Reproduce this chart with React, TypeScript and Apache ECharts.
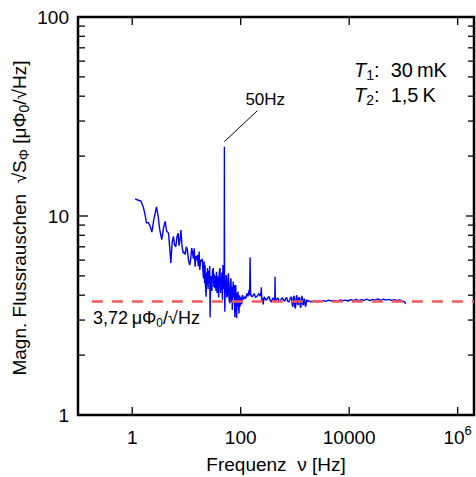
import React, { useEffect, useRef } from 'react';
import * as echarts from 'echarts';

// ---- data ----
const freqHz = [
  1.13, 1.3, 1.45, 1.6, 1.72, 1.83, 1.95, 2.1, 2.3, 2.5, 2.8, 3.0, 3.2, 3.5, 3.8, 4.05, 4.3, 4.66, 4.9, 5.15,
  5.45, 5.75, 6.0, 6.35, 6.7, 7.0, 7.3, 7.6, 7.9, 8.3, 8.7, 9.1, 9.5, 9.9, 10.4, 10.9, 11.5, 12.0, 12.5, 12.9,
  13.4, 13.9, 14.4, 14.9, 15.6, 15.9, 16.5, 17.1, 17.6, 18.2, 18.9, 19.7, 20.0, 20.6, 21.2, 21.6, 22.0, 22.5, 23.0, 23.5,
  24.0, 24.4, 25.0, 25.6, 26.2, 26.8, 27.3, 27.9, 28.7, 29.4, 30.2, 31.2, 32.0, 32.6, 33.4, 34.3, 35.0, 35.7, 36.6, 37.4,
  38.2, 39.2, 40.2, 41.5, 42.5, 43.3, 44.0, 45.0, 46.0, 47.0, 48.0, 49.0, 49.6, 50.0, 50.4, 51.0, 52.0, 53.0, 54.0, 55.5,
  57.0, 58.2, 59.4, 61.0, 63.0, 64.5, 66.0, 67.5, 69.0, 70.0, 71.5, 73.0, 74.5, 76.0, 78.0, 79.5, 81.0, 82.5, 84.0, 86.0,
  87.5, 89.0, 91.0, 93.0, 95.0, 97.0, 100, 104, 108, 113, 118, 124, 130, 136, 143, 146, 149, 152, 157, 163,
  170, 177, 187, 197, 207, 218, 228, 236, 240, 245, 251, 260, 270, 285, 302, 318, 334, 350, 368, 385,
  401, 415, 425, 430, 435, 449, 468, 488, 510, 531, 558, 585, 615, 648, 675, 705, 740, 780, 820, 860,
  890, 915, 940, 965, 990, 1020, 1050, 1080, 1110, 1140, 1175, 1210, 1245, 1280, 1315, 1350, 1390, 1430, 1470, 1510,
  1555, 1600, 1650, 1690, 1800, 1950, 2100, 2240, 2400, 2600, 2800, 3000, 3300, 3700, 4200, 4700, 5300, 6000, 6800, 7600,
  8500, 9500, 10700, 12000, 13500, 15000, 17000, 19000, 21000, 24000, 27000, 30000, 34000, 38000, 43000, 48000, 54000, 60000, 68000, 76000,
  85000, 95000, 105000, 110000,
];
const noiseAmp = [
  12.2, 12.0, 11.9, 11.1, 10.2, 9.2, 9.3, 9.0, 8.3, 9.6, 11.1, 10.0, 8.6, 7.6, 8.8, 9.4, 8.4, 8.2, 7.0, 5.8,
  7.4, 7.9, 7.2, 7.0, 7.9, 8.2, 7.1, 7.6, 8.5, 7.0, 6.5, 6.6, 6.4, 7.0, 6.75, 6.0, 5.67, 6.13, 6.9, 6.6,
  6.1, 6.88, 5.56, 6.3, 6.0, 6.36, 5.6, 6.62, 5.35, 6.0, 5.89, 6.1, 5.4, 4.86, 5.9, 4.6, 5.67, 4.4, 3.93, 5.2,
  4.5, 5.47, 4.3, 5.3, 4.59, 5.6, 3.1, 5.0, 4.86, 4.2, 5.3, 5.47, 4.4, 5.1, 4.33, 5.0, 4.2, 5.25, 4.1, 5.0,
  4.49, 3.9, 5.2, 5.47, 4.1, 4.9, 4.25, 5.2, 3.8, 5.67, 4.3, 4.9, 4.4, 22.3, 4.2, 3.3, 4.7, 4.1, 5.05, 3.9,
  4.0, 4.9, 5.15, 3.8, 3.64, 4.6, 4.86, 3.7, 4.4, 3.37, 4.2, 4.68, 3.9, 4.5, 3.1, 4.3, 4.49, 3.6, 3.07, 4.1,
  3.5, 4.17, 3.6, 3.24, 4.0, 3.5, 3.93, 3.6, 4.0, 3.8, 3.93, 3.85, 4.08, 3.95, 4.25, 4.0, 6.2, 4.1, 3.95, 3.93,
  4.0, 4.08, 3.9, 3.93, 4.0, 4.08, 3.95, 4.1, 4.38, 3.75, 3.86, 3.6, 3.93, 3.82, 3.78, 3.9, 3.93, 3.75, 3.7, 3.85,
  3.86, 3.75, 3.85, 4.95, 3.8, 3.7, 3.85, 3.86, 3.75, 3.7, 3.82, 3.89, 3.78, 3.73, 3.85, 3.89, 3.72, 3.7, 3.85, 3.93,
  3.6, 3.5, 3.9, 3.97, 3.55, 3.43, 3.85, 4.0, 3.6, 3.57, 3.9, 3.89, 3.55, 3.46, 3.85, 3.97, 3.6, 3.57, 3.85, 3.78,
  3.5, 3.57, 3.8, 3.73, 3.75, 3.7, 3.74, 3.72, 3.76, 3.69, 3.74, 3.72, 3.76, 3.72, 3.78, 3.74, 3.77, 3.73, 3.79, 3.75,
  3.78, 3.74, 3.8, 3.76, 3.81, 3.75, 3.8, 3.77, 3.82, 3.76, 3.81, 3.78, 3.83, 3.77, 3.82, 3.78, 3.81, 3.77, 3.8, 3.76,
  3.79, 3.74, 3.7, 3.62,
];

const whiteNoiseLevel = 3.72;
const whiteNoiseFromHz = 0.18;
const whiteNoiseToHz = 2e6;

const xAxisMin = 0.1;
const xAxisMax = 2e6;
const yAxisMin = 1;
const yAxisMax = 100;

const xTickValues = [1, 100, 10000, 1000000];
const yMajorTickValues = [10];
const yMinorTickValues = [2, 3, 4, 5, 6, 7, 8, 9, 20, 30, 40, 50, 60, 70, 80, 90];
const xLabelExponents = [0, 2, 4, 6];
const yLabelExponents = [0, 1, 2];

const humFreq = 50;
const humAmp = 22.3;
const humLabel = '50Hz';
const whiteNoiseLabel = '{n|3,72\u2009μΦ}{sub|0}{n|/√Hz}';
const t1Label = '{it|T}{sub|1}{n|:  30\u2009mK}';
const t2Label = '{it|T}{sub|2}{n|:  1,5\u2009K}';
const xTitle = 'Frequenz  ν [Hz]';
const yTitle = '{n|Magn. Flussrauschen  √S}{sub|Φ}{n| [μΦ}{sub|0}{n|/√Hz]}';

const FONT = '"Liberation Sans", Arial, Helvetica, sans-serif';

function isPow(v: number, allowed: number[]) {
  const e = Math.round(Math.log10(v));
  return Math.abs(Math.log10(v) - e) < 1e-6 && allowed.indexOf(e) >= 0 ? e : null;
}

export default function App() {
  const ref = useRef<HTMLDivElement>(null);
  useEffect(() => {
    if (!ref.current) return;
    const chart = echarts.init(ref.current, undefined, { renderer: 'svg' });
    const noiseData = freqHz.map((f, i) => [f, noiseAmp[i]]);
    const tickData = [
      ...xTickValues.map((v) => [v, 1, 0]),
      ...yMajorTickValues.map((v) => [1, v, 1]),
      ...yMinorTickValues.map((v) => [1, v, 2]),
    ];
    const option: any = {
      animation: false,
      backgroundColor: '#fff',
      grid: {
        left: 78,
        right: 2,
        top: 17,
        bottom: 62,
        show: true,
        borderColor: '#000',
        borderWidth: 2.5,
        backgroundColor: 'transparent',
        containLabel: false,
        outerBoundsMode: 'none',
      },
      xAxis: {
        type: 'log',
        logBase: 10,
        min: xAxisMin,
        max: xAxisMax,
        axisLine: { show: false },
        axisTick: { show: false },
        splitLine: { show: false },
        axisLabel: {
          showMinLabel: true,
          showMaxLabel: false,
          hideOverlap: false,
          margin: 9,
          color: '#000',
          fontFamily: FONT,
          fontSize: 19,
          formatter: (v: number) => {
            const e = isPow(v, xLabelExponents);
            if (e === null) return '';
            if (e === 6) return '{b|10}{sup|6}';
            return '{b|' + String(Math.round(v)) + '}';
          },
          rich: {
            b: { fontSize: 19, lineHeight: 19, padding: [8, 0, 0, 0], color: '#000', fontFamily: FONT },
            sup: { fontSize: 13, lineHeight: 13, verticalAlign: 'top', color: '#000', fontFamily: FONT },
          },
        },
      },
      yAxis: {
        type: 'log',
        logBase: 10,
        min: yAxisMin,
        max: yAxisMax,
        axisLine: { show: false },
        axisTick: { show: false },
        splitLine: { show: false },
        axisLabel: {
          margin: 9,
          color: '#000',
          fontFamily: FONT,
          fontSize: 19,
          formatter: (v: number) => (isPow(v, yLabelExponents) === null ? '' : String(Math.round(v))),
        },
      },
      series: [
        {
          type: 'line',
          data: noiseData,
          symbol: 'none',
          lineStyle: { color: '#0000ff', width: 1.4 },
          z: 2,
          silent: true,
        },
        {
          type: 'line',
          data: [
            [whiteNoiseFromHz, whiteNoiseLevel],
            [whiteNoiseToHz, whiteNoiseLevel],
          ],
          symbol: 'none',
          lineStyle: { color: '#f25a5a', width: 2.5, type: [11, 9] },
          z: 3,
          silent: true,
        },
        {
          type: 'custom',
          data: tickData,
          encode: { x: 0, y: 1 },
          z: 4,
          silent: true,
          renderItem: (params: any, api: any) => {
            const cs = params.coordSys;
            const kind = api.value(2);
            const st = { stroke: '#000', lineWidth: 1.3 };
            const children: any[] = [];
            if (kind === 0) {
              const px = api.coord([api.value(0), 1])[0];
              const L = 8;
              children.push({ type: 'line', shape: { x1: px, y1: cs.y + cs.height, x2: px, y2: cs.y + cs.height - L }, style: st });
              children.push({ type: 'line', shape: { x1: px, y1: cs.y, x2: px, y2: cs.y + L }, style: st });
            } else {
              const py = api.coord([1, api.value(1)])[1];
              const L = kind === 1 ? 10 : 7;
              const R = kind === 1 ? 8 : 6;
              children.push({ type: 'line', shape: { x1: cs.x, y1: py, x2: cs.x + L, y2: py }, style: st });
              children.push({ type: 'line', shape: { x1: cs.x + cs.width, y1: py, x2: cs.x + cs.width - R, y2: py }, style: st });
            }
            return { type: 'group', children };
          },
        },
      ],
    };
    chart.setOption(option);

    const sp = chart.convertToPixel({ gridIndex: 0 } as any, [humFreq, humAmp]) as number[];
    const sx = sp[0];
    const sy = sp[1];
    const richBase = {
      n: { fontSize: 19, lineHeight: 24, fontFamily: FONT, color: '#000' },
      sub: { fontSize: 14, lineHeight: 14, verticalAlign: 'bottom', fontFamily: FONT, color: '#000' },
    };
    chart.setOption({
      graphic: [
        {
          type: 'line',
          shape: { x1: sx, y1: sy - 5, x2: sx + 33, y2: sy - 36 },
          style: { stroke: '#000', lineWidth: 1 },
          silent: true,
        },
        {
          type: 'text',
          x: sx + 21,
          y: sy - 47,
          style: { text: humLabel, fontSize: 17, fontFamily: FONT, fill: '#000', align: 'left', verticalAlign: 'middle' },
          silent: true,
        },
        {
          type: 'text',
          x: 93,
          y: 318,
          style: {
            text: whiteNoiseLabel,
            align: 'left',
            verticalAlign: 'middle',
            rich: {
              n: { fontSize: 18, lineHeight: 22, fontFamily: FONT, color: '#000' },
              sub: { fontSize: 12, lineHeight: 12, verticalAlign: 'bottom', fontFamily: FONT, color: '#000' },
            },
          },
          silent: true,
        },
        {
          type: 'text',
          x: 354,
          y: 70,
          style: {
            text: t1Label,
            align: 'left',
            verticalAlign: 'middle',
            rich: {
              it: { fontSize: 20, lineHeight: 24, fontStyle: 'italic', fontFamily: FONT, color: '#000' },
              n: { fontSize: 20, lineHeight: 24, fontFamily: FONT, color: '#000' },
              sub: { fontSize: 14, lineHeight: 14, verticalAlign: 'bottom', fontFamily: FONT, color: '#000' },
            },
          },
          silent: true,
        },
        {
          type: 'text',
          x: 354,
          y: 95,
          style: {
            text: t2Label,
            align: 'left',
            verticalAlign: 'middle',
            rich: {
              it: { fontSize: 20, lineHeight: 24, fontStyle: 'italic', fontFamily: FONT, color: '#000' },
              n: { fontSize: 20, lineHeight: 24, fontFamily: FONT, color: '#000' },
              sub: { fontSize: 14, lineHeight: 14, verticalAlign: 'bottom', fontFamily: FONT, color: '#000' },
            },
          },
          silent: true,
        },
        {
          type: 'text',
          x: 276,
          y: 464,
          style: { text: xTitle, fontSize: 19, fontFamily: FONT, fill: '#000', align: 'center', verticalAlign: 'middle' },
          silent: true,
        },
        {
          type: 'text',
          x: 19,
          y: 218,
          rotation: Math.PI / 2,
          style: { text: yTitle, align: 'center', verticalAlign: 'middle', rich: richBase },
          silent: true,
        },
      ],
    });
    return () => chart.dispose();
  }, []);
  return <div ref={ref} style={{ position: 'fixed', left: 0, top: 0, width: 476, height: 477 }} />;
}
